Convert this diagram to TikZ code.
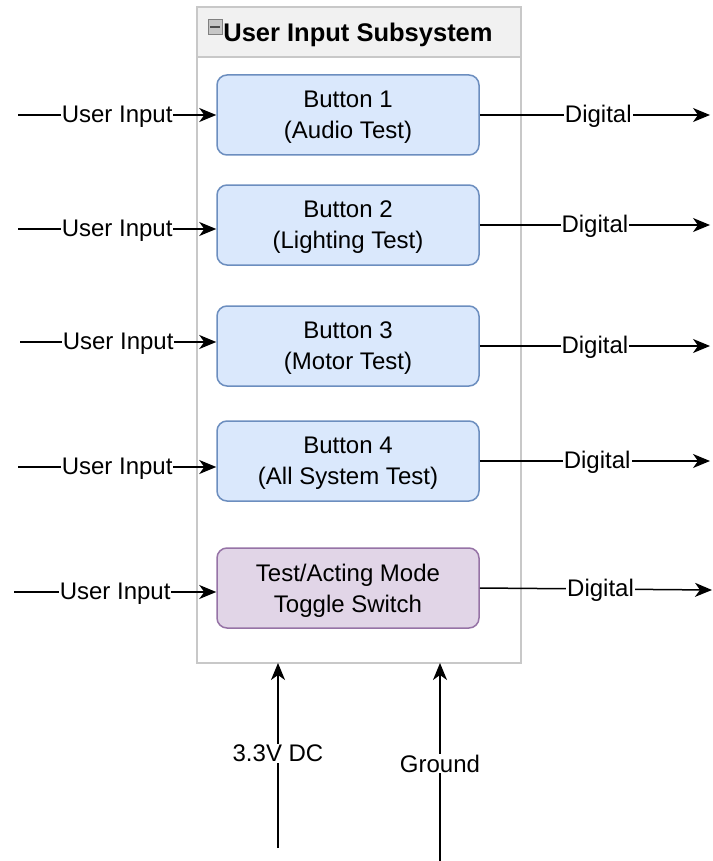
\documentclass[tikz,border=0pt]{standalone}
\usepackage{fontspec}
\setmainfont{Liberation Sans}
\usetikzlibrary{arrows.meta}
\definecolor{bluefill}{HTML}{DAE8FC}
\definecolor{bluestroke}{HTML}{6C8EBF}
\definecolor{purplefill}{HTML}{E1D5E7}
\definecolor{purplestroke}{HTML}{9673A6}
\definecolor{panelgray}{HTML}{C8C8C8}
\definecolor{headerfill}{HTML}{F1F1F1}
\tikzset{
  every node/.style={font=\fontsize{24}{31}\selectfont},
  unit/.style={draw=bluestroke, fill=bluefill, line width=1.5pt, rounded corners=10pt,
    minimum width=262pt, minimum height=80pt, align=center, inner sep=0pt,
    text depth=0pt},
  toggleunit/.style={unit, draw=purplestroke, fill=purplefill},
  sig/.style={line width=1.5pt, -{Stealth[length=17pt,width=14pt,inset=5pt]}},
  lbl/.style={fill=white, inner sep=1pt, yshift=-1.5pt},
}
\begin{document}
\begin{tikzpicture}[x=1pt,y=-1pt]
\useasboundingbox (0,0) rectangle (712,861);

% subsystem container with header bar
\draw[panelgray, line width=1.5pt, fill=white] (197,7) rectangle (521,663);
\draw[panelgray, line width=1.5pt, fill=headerfill] (197,7) rectangle (521,57);
\node[font=\fontsize{25.5}{28}\bfseries] (title) at (358,35) {User Input Subsystem};
% collapse icon
\draw[gray, fill=gray!45, line width=0.8pt] (208,19) rectangle (222,34);
\draw[black!70, line width=2pt] (210,27) -- (220,27);

% inner blocks
\node[unit] (b1) at (348,115) {Button 1\\(Audio Test)};
\node[unit] (b2) at (348,225) {Button 2\\(Lighting Test)};
\node[unit] (b3) at (348,346) {Button 3\\(Motor Test)};
\node[unit] (b4) at (348,461) {Button 4\\(All System Test)};
\node[toggleunit] (b5) at (348,588) {Test/Acting Mode\\Toggle Switch};

% input ends
\coordinate (i1) at (18,115);
\coordinate (i2) at (18,229);
\coordinate (i3) at (20,342);
\coordinate (i4) at (18,467);
\coordinate (i5) at (14,592);
% output ends
\coordinate (o1) at (710,115);
\coordinate (o2) at (710,225);
\coordinate (o3) at (710,346);
\coordinate (o4) at (710,461);
\coordinate (o5) at (712,590);
% supply ends
\coordinate (vcc) at (278,848);
\coordinate (gnd) at (440,861);

% user inputs
\draw[sig] (i1) -- node[lbl]{User Input} (i1 -| b1.west);
\draw[sig] (i2) -- node[lbl]{User Input} (i2 -| b2.west);
\draw[sig] (i3) -- node[lbl]{User Input} (i3 -| b3.west);
\draw[sig] (i4) -- node[lbl]{User Input} (i4 -| b4.west);
\draw[sig] (i5) -- node[lbl]{User Input} (i5 -| b5.west);

% digital outputs
\draw[sig] (b1.east) -- node[lbl, pos=0.515]{Digital} (o1);
\draw[sig] (b2.east) -- node[lbl, pos=0.5]{Digital} (o2);
\draw[sig] (b3.east) -- node[lbl, pos=0.5]{Digital} (o3);
\draw[sig] (b4.east) -- node[lbl, pos=0.51]{Digital} (o4);
\draw[sig] (b5.east) -- node[lbl, pos=0.52]{Digital} (o5);

% power supply
\draw[sig] (vcc) -- node[lbl, pos=0.52]{3.3V DC} (vcc |- 0,663);
\draw[sig] (gnd) -- node[lbl, pos=0.5]{Ground} (gnd |- 0,663);
\end{tikzpicture}
\end{document}
